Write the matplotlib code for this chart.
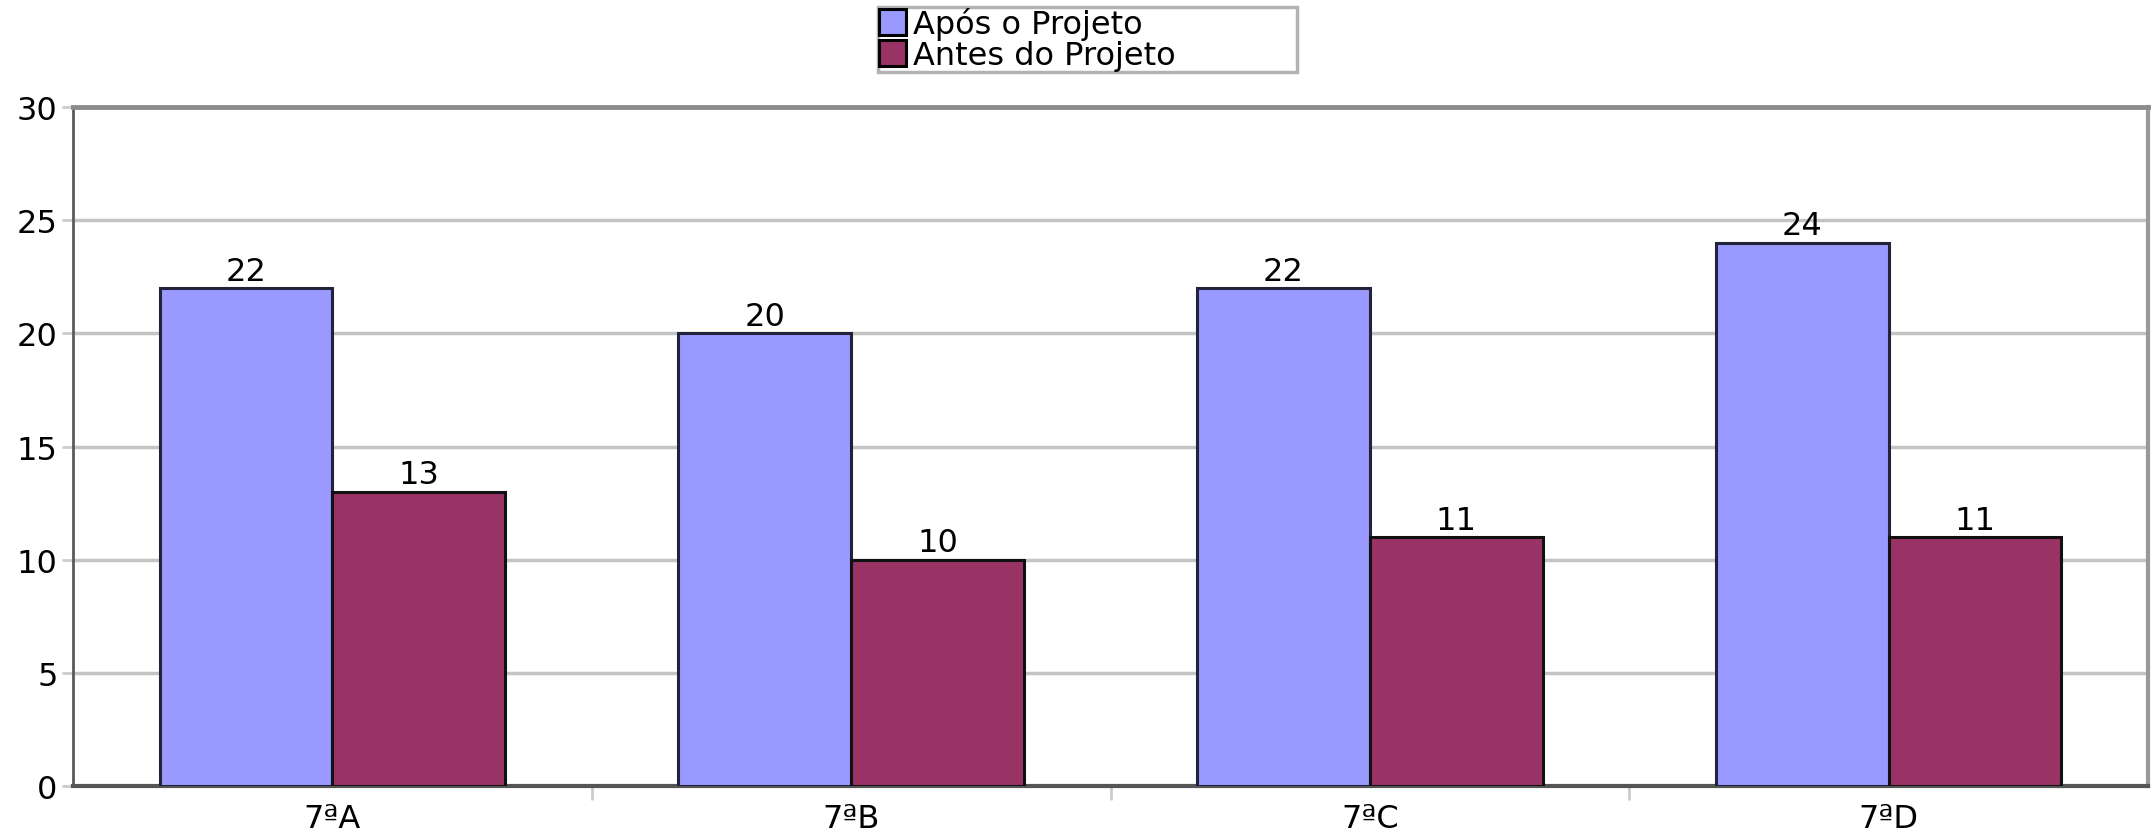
import matplotlib.pyplot as plt
import numpy as np

plt.rcParams['font.family'] = ['DejaVu Sans']

turmas = ['7ªA', '7ªB', '7ªC', '7ªD']
apos = [22, 20, 22, 24]
antes = [13, 10, 11, 11]
series = ['Após o Projeto', 'Antes do Projeto']

fig = plt.figure(figsize=(21.53, 8.37), dpi=100)
ax = fig.add_axes([0.0339, 0.0597, 0.9638, 0.8113])

x = np.arange(len(turmas))
w = 0.333
b1 = ax.bar(x - w/2, apos, w, color='#9999ff', edgecolor='#22223a', linewidth=2.2,
            label=series[0], zorder=3)
b2 = ax.bar(x + w/2, antes, w, color='#993366', edgecolor='#111111', linewidth=2.2,
            label=series[1], zorder=3)

for bars in (b1, b2):
    ax.bar_label(bars, padding=1, fontsize=23)

ax.set_xlim(-0.5, len(turmas) - 0.5)
ax.set_ylim(0, 30)
ax.set_yticks(np.arange(0, 31, 5))
ax.set_xticks(x)
ax.set_xticklabels(turmas)
ax.set_xticks(np.arange(0.5, len(turmas) - 0.5, 1), minor=True)
ax.tick_params(axis='x', which='major', length=0, labelsize=23, pad=12)
ax.tick_params(axis='x', which='minor', length=10, width=2, color='#cccccc')
ax.tick_params(axis='y', length=8, width=2, color='#cccccc', labelsize=23, pad=3)

ax.yaxis.grid(True, color='#c4c4c4', linewidth=2.5, zorder=0)
ax.set_axisbelow(True)

ax.spines['left'].set_color('#5a5a5a')
ax.spines['left'].set_linewidth(2)
ax.spines['bottom'].set_color('#555555')
ax.spines['bottom'].set_linewidth(3)
ax.spines['top'].set_color('#8c8c8c')
ax.spines['top'].set_linewidth(3.5)
ax.spines['right'].set_color('#999999')
ax.spines['right'].set_linewidth(3)

leg = fig.legend(loc='upper left', bbox_to_anchor=(0.408, 0.84, 0.1946, 0.151),
                 mode='expand', ncol=1, fontsize=23,
                 frameon=True, fancybox=False, shadow=False, handlelength=0.85,
                 handleheight=0.85, handletextpad=0.2, labelspacing=0.0,
                 borderpad=0.02, borderaxespad=0)
leg.get_frame().set_edgecolor('#a0a0a0')
leg.get_frame().set_linewidth(2.5)
for h in leg.legend_handles:
    h.set_edgecolor('#000000')

fig.savefig('out.png', dpi=100, facecolor='white')
